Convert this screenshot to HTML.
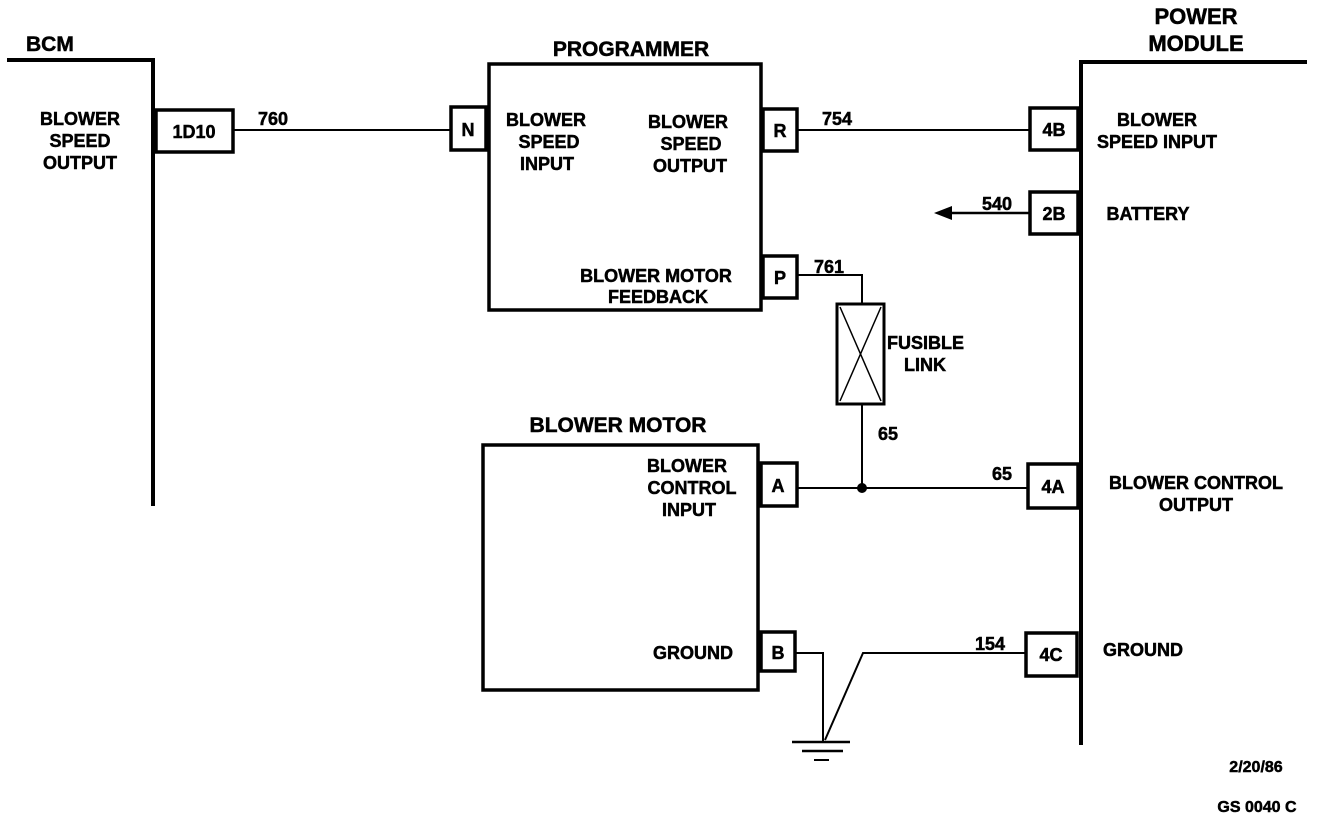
<!DOCTYPE html>
<html><head><meta charset="utf-8"><style>
html,body{margin:0;padding:0;background:#fff;width:1328px;height:820px;overflow:hidden}
svg text{font-family:"Liberation Sans",sans-serif;font-weight:bold;fill:#000;stroke:#000;stroke-width:0.5}
</style></head><body>
<svg width="1328" height="820" viewBox="0 0 1328 820" xmlns="http://www.w3.org/2000/svg">
<g fill="none" stroke="#000">
<polyline points="7,60 153,60 153,506" stroke-width="4"/>
<rect x="156" y="110" width="77" height="42" stroke-width="3.5"/>
<line x1="233" y1="130" x2="450" y2="130" stroke-width="2"/>
<rect x="489" y="64" width="272" height="246" stroke-width="3.5"/>
<rect x="451" y="107" width="35" height="43" stroke-width="3.5"/>
<rect x="763" y="109" width="34" height="42" stroke-width="3.5"/>
<rect x="763" y="256" width="34" height="42" stroke-width="3.5"/>
<line x1="797" y1="130" x2="1030" y2="130" stroke-width="2"/>
<polyline points="797,275 862,275 862,304" stroke-width="2"/>
<rect x="837" y="304" width="47" height="100" stroke-width="3"/>
<line x1="840" y1="307" x2="881" y2="401" stroke-width="1.5"/>
<line x1="881" y1="307" x2="840" y2="401" stroke-width="1.5"/>
<line x1="862" y1="404" x2="862" y2="488" stroke-width="2"/>
<polyline points="1307,62 1081,62 1081,745" stroke-width="4"/>
<rect x="1030" y="108" width="48" height="42" stroke-width="3.5"/>
<rect x="1030" y="192" width="48" height="42" stroke-width="3.5"/>
<line x1="950" y1="213" x2="1030" y2="213" stroke-width="2.5"/>
<rect x="1028" y="464" width="50" height="44" stroke-width="3.5"/>
<rect x="1026" y="633" width="51" height="43" stroke-width="3.5"/>
<rect x="483" y="445" width="275" height="245" stroke-width="3.5"/>
<rect x="761" y="463" width="36" height="43" stroke-width="3.5"/>
<rect x="761" y="632" width="34" height="39" stroke-width="3.5"/>
<line x1="797" y1="488" x2="1028" y2="488" stroke-width="2"/>
<polyline points="795,653 823,653 823,741" stroke-width="2"/>
<polyline points="825,740 863,653 1026,653" stroke-width="2"/>
<line x1="792" y1="742" x2="850" y2="742" stroke-width="2.5"/>
<line x1="802" y1="751" x2="843" y2="751" stroke-width="2.5"/>
<line x1="814" y1="760" x2="829" y2="760" stroke-width="2"/>
</g>
<polygon points="934,213 952,206 952,220" fill="#000"/>
<circle cx="862" cy="488" r="5" fill="#000"/>
<g font-size="18">
<text x="26" y="51" font-size="21">BCM</text>
<text x="80" y="125" text-anchor="middle">BLOWER</text>
<text x="80" y="147" text-anchor="middle">SPEED</text>
<text x="80" y="169" text-anchor="middle">OUTPUT</text>
<text x="194" y="138" text-anchor="middle">1D10</text>
<text x="258" y="125">760</text>
<text x="468" y="136" text-anchor="middle">N</text>
<text x="631" y="56" text-anchor="middle" font-size="21">PROGRAMMER</text>
<text x="546" y="126" text-anchor="middle">BLOWER</text>
<text x="549" y="148" text-anchor="middle">SPEED</text>
<text x="547" y="170" text-anchor="middle">INPUT</text>
<text x="688" y="128" text-anchor="middle">BLOWER</text>
<text x="691" y="150" text-anchor="middle">SPEED</text>
<text x="690" y="172" text-anchor="middle">OUTPUT</text>
<text x="780" y="137" text-anchor="middle">R</text>
<text x="780" y="284" text-anchor="middle">P</text>
<text x="656" y="282" text-anchor="middle">BLOWER MOTOR</text>
<text x="658" y="303" text-anchor="middle">FEEDBACK</text>
<text x="822" y="125">754</text>
<text x="814" y="273">761</text>
<text x="887" y="349">FUSIBLE</text>
<text x="904" y="371">LINK</text>
<text x="878" y="440">65</text>
<text x="992" y="480">65</text>
<text x="1196" y="24" text-anchor="middle" font-size="22">POWER</text>
<text x="1196" y="51" text-anchor="middle" font-size="22">MODULE</text>
<text x="1054" y="136" text-anchor="middle">4B</text>
<text x="1157" y="126" text-anchor="middle">BLOWER</text>
<text x="1157" y="148" text-anchor="middle">SPEED INPUT</text>
<text x="982" y="210">540</text>
<text x="1054" y="220" text-anchor="middle">2B</text>
<text x="1148" y="220" text-anchor="middle">BATTERY</text>
<text x="1053" y="493" text-anchor="middle">4A</text>
<text x="1196" y="489" text-anchor="middle">BLOWER CONTROL</text>
<text x="1196" y="511" text-anchor="middle">OUTPUT</text>
<text x="1051" y="661" text-anchor="middle">4C</text>
<text x="975" y="650">154</text>
<text x="1143" y="656" text-anchor="middle">GROUND</text>
<text x="618" y="432" text-anchor="middle" font-size="21">BLOWER MOTOR</text>
<text x="687" y="472" text-anchor="middle">BLOWER</text>
<text x="692" y="494" text-anchor="middle">CONTROL</text>
<text x="689" y="516" text-anchor="middle">INPUT</text>
<text x="778" y="492" text-anchor="middle">A</text>
<text x="693" y="659" text-anchor="middle">GROUND</text>
<text x="778" y="659" text-anchor="middle">B</text>
<text x="1256" y="772" text-anchor="middle" font-size="16">2/20/86</text>
<text x="1257" y="812" text-anchor="middle" font-size="16">GS 0040  C</text>
</g>
</svg>
</body></html>
